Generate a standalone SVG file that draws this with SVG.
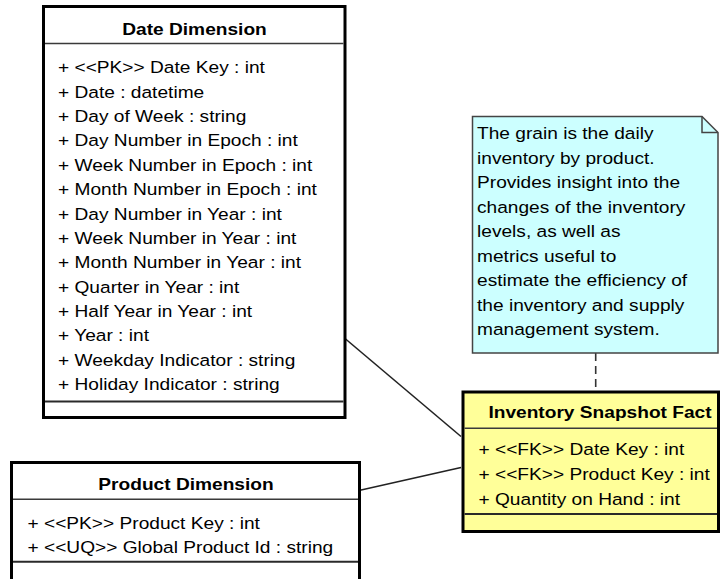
<svg xmlns="http://www.w3.org/2000/svg" width="720" height="579" viewBox="0 0 720 579">
  <style>
    .box { stroke: #000; stroke-width: 3; }
    .sep { stroke: #3a3a3a; stroke-width: 1.5; }
    .sep2 { stroke: #2a2a2a; stroke-width: 2; }
    .title { font-family: "Liberation Sans", Arial, sans-serif; font-size: 16.5px; font-weight: bold; fill: #000; text-anchor: middle; }
    .attr { font-family: "Liberation Sans", Arial, sans-serif; font-size: 16.5px; fill: #000; }
    .conn { stroke: #222; stroke-width: 1.6; fill: none; }
    .dash { stroke: #333; stroke-width: 1.6; fill: none; stroke-dasharray: 8 5; }
    .note { fill: #ccffff; stroke: #444; stroke-width: 1.5; }
  </style>
  <rect width="720" height="579" fill="#fff"/>

  <!-- connectors -->
  <g id="connectors">
    <line class="conn" x1="345" y1="338.5" x2="461" y2="436.5"/>
    <line class="conn" x1="360" y1="490.3" x2="461" y2="467.5"/>
    <line class="dash" x1="595.7" y1="353" x2="595.7" y2="391"/>
  </g>

  <!-- Date Dimension -->
  <g id="date-dimension">
    <rect class="box" x="43.5" y="6.5" width="301.5" height="411" fill="#fff"/>
    <line class="sep" x1="45" y1="43.5" x2="343.5" y2="43.5"/>
    <line class="sep2" x1="45" y1="401.5" x2="343.5" y2="401.5"/>
    <g transform="translate(194.5,0) scale(1.16,1)">
      <text class="title" x="0" y="35">Date Dimension</text>
    </g>
    <g transform="translate(58,0) scale(1.16,1)">
      <text class="attr" x="0" y="73.3">+ &lt;&lt;PK&gt;&gt; Date Key : int</text>
      <text class="attr" x="0" y="97.7">+ Date : datetime</text>
      <text class="attr" x="0" y="122.1">+ Day of Week : string</text>
      <text class="attr" x="0" y="146.4">+ Day Number in Epoch : int</text>
      <text class="attr" x="0" y="170.8">+ Week Number in Epoch : int</text>
      <text class="attr" x="0" y="195.2">+ Month Number in Epoch : int</text>
      <text class="attr" x="0" y="219.6">+ Day Number in Year : int</text>
      <text class="attr" x="0" y="244.0">+ Week Number in Year : int</text>
      <text class="attr" x="0" y="268.3">+ Month Number in Year : int</text>
      <text class="attr" x="0" y="292.7">+ Quarter in Year : int</text>
      <text class="attr" x="0" y="317.1">+ Half Year in Year : int</text>
      <text class="attr" x="0" y="341.5">+ Year : int</text>
      <text class="attr" x="0" y="365.9">+ Weekday Indicator : string</text>
      <text class="attr" x="0" y="390.2">+ Holiday Indicator : string</text>
    </g>
  </g>

  <!-- Product Dimension -->
  <g id="product-dimension">
    <rect class="box" x="11.5" y="462.5" width="348" height="130" fill="#fff"/>
    <line class="sep" x1="13" y1="499.3" x2="358" y2="499.3"/>
    <line class="sep2" x1="13" y1="561.7" x2="358" y2="561.7"/>
    <g transform="translate(186,0) scale(1.16,1)">
      <text class="title" x="0" y="490">Product Dimension</text>
    </g>
    <g transform="translate(27.5,0) scale(1.16,1)">
      <text class="attr" x="0" y="529.5">+ &lt;&lt;PK&gt;&gt; Product Key : int</text>
      <text class="attr" x="0" y="553.5">+ &lt;&lt;UQ&gt;&gt; Global Product Id : string</text>
    </g>
  </g>

  <!-- grain note -->
  <g id="grain-note">
    <path class="note" d="M472.5,116.5 H702 L718,132.5 V353 H472.5 Z"/>
    <path d="M702,116.5 V132.5 H718" fill="none" stroke="#444" stroke-width="1.5"/>
    <g transform="translate(477,0) scale(1.16,1)">
      <text class="attr" x="0" y="139.5">The grain is the daily</text>
      <text class="attr" x="0" y="164">inventory by product.</text>
      <text class="attr" x="0" y="188.5">Provides insight into the</text>
      <text class="attr" x="0" y="213">changes of the inventory</text>
      <text class="attr" x="0" y="237.5">levels, as well as</text>
      <text class="attr" x="0" y="262">metrics useful to</text>
      <text class="attr" x="0" y="286.5">estimate the efficiency of</text>
      <text class="attr" x="0" y="311">the inventory and supply</text>
      <text class="attr" x="0" y="335.5">management system.</text>
    </g>
  </g>

  <!-- Inventory Snapshot Fact -->
  <g id="inventory-snapshot-fact">
    <rect class="box" x="463" y="392" width="255.5" height="139.5" fill="#ffff99"/>
    <line class="sep" x1="464.5" y1="428.3" x2="717" y2="428.3"/>
    <line class="sep2" x1="464.5" y1="514" x2="717" y2="514"/>
    <g transform="translate(600,0) scale(1.16,1)">
      <text class="title" x="0" y="418.3">Inventory Snapshot Fact</text>
    </g>
    <g transform="translate(478.5,0) scale(1.16,1)">
      <text class="attr" x="0" y="455">+ &lt;&lt;FK&gt;&gt; Date Key : int</text>
      <text class="attr" x="0" y="480">+ &lt;&lt;FK&gt;&gt; Product Key : int</text>
      <text class="attr" x="0" y="505">+ Quantity on Hand : int</text>
    </g>
  </g>
</svg>
